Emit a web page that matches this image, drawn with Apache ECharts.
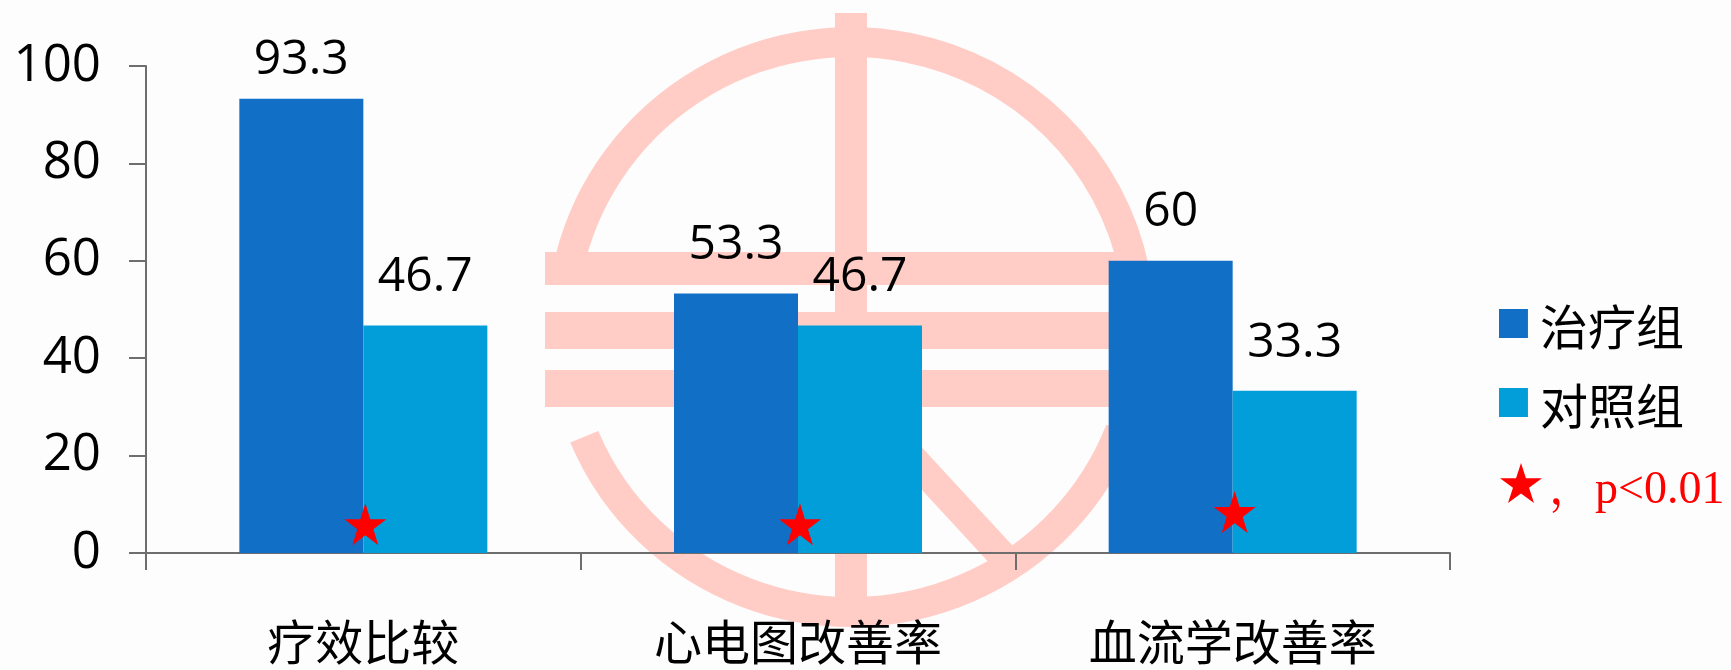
<!DOCTYPE html>
<html>
<head>
<meta charset="utf-8">
<style>html,body{margin:0;padding:0;background:#fdfdfd;overflow:hidden}#c{width:1731px;height:670px}</style>
<script src="https://cdn.jsdelivr.net/npm/echarts@6/dist/echarts.min.js"></script>
</head>
<body>
<div id="c"></div>
<script>
const categories = ['疗效比较', '心电图改善率', '血流学改善率'];
const treatment = [93.3, 53.3, 60];
const control = [46.7, 46.7, 33.3];
const starHeights = [5.5, 5.5, 8];
const yTickMax = 100, yTickStep = 20;

const FONT = '"Open Sans","Noto Sans CJK SC",sans-serif';
const PINK = '#ffcdc6';
const AXIS = '#6e6e6e';
const STAR_D = 'M50 0 L61.8 36.3 L100 36.3 L69.1 58.8 L80.9 95.1 L50 72.7 L19.1 95.1 L30.9 58.8 L0 36.3 L38.2 36.3 Z';
const STAR = 'path://' + STAR_D;
// Legend icons: the trailing zero-length segment enlarges the icon box, lifting the mark above the text centre.
const STAR_ICON = 'path://' + STAR_D + ' M0 133 L0.01 133';
const SQUARE_ICON = 'path://M0 0 H100 V100 H0 Z M0 152 L0.01 152';
const rect = (x, y, width, height) => ({type:'rect', silent:true, z:-1, shape:{x, y, width, height}, style:{fill:PINK}});
const arc = (startAngle, endAngle) => ({type:'arc', silent:true, z:-1, x:851, y:327, scaleX:1.014,
  shape:{cx:0, cy:0, r:285, startAngle, endAngle, clockwise:true}, style:{fill:null, stroke:PINK, lineWidth:30}});

const chart = echarts.init(document.getElementById('c'), null, {renderer:'canvas'});
const labelStyle = {show:true, position:'top', distance:24, color:'#000', fontSize:48, fontFamily:FONT};
chart.setOption({
  animation:false,
  graphic:{elements:[
    arc(Math.PI + 0.2, 2 * Math.PI - 0.2),
    arc(0.37, Math.PI - 0.395),
    rect(835, 13, 32, 602),
    rect(545, 252, 581, 33),
    rect(545, 312, 581, 37),
    rect(545, 370, 581, 37),
    {type:'line', silent:true, z:-1, shape:{x1:864, y1:406, x2:1009, y2:563}, style:{stroke:PINK, lineWidth:29}}
  ]},
  grid:{left:146, right:281, top:66, bottom:115, containLabel:false},
  legend:[
    {left:1494, top:302, orient:'vertical', itemWidth:29, itemHeight:44, itemGap:31,
     icon:SQUARE_ICON, data:['治疗组','对照组'], selectedMode:false,
     textStyle:{color:'#000', fontSize:48, fontFamily:FONT, padding:[0,0,0,7]}},
    {left:1495, top:458, itemWidth:42, itemHeight:56, itemGap:0, selectedMode:false,
     icon:STAR_ICON,
     data:['，p<0.01'],
     textStyle:{color:'#ff0000', fontSize:46, fontFamily:'"Liberation Serif","Noto Serif CJK SC","Noto Sans CJK SC",serif', padding:[0,0,0,2]}}
  ],
  xAxis:{type:'category', data:categories,
    axisLine:{lineStyle:{color:AXIS, width:2}},
    axisTick:{show:true, length:17, alignWithLabel:false, lineStyle:{color:AXIS, width:2}},
    axisLabel:{color:'#000', fontSize:48, fontFamily:FONT, margin:69, interval:0}},
  yAxis:{type:'value', min:0, max:yTickMax, interval:yTickStep,
    axisLine:{show:true, onZero:false, lineStyle:{color:AXIS, width:2}},
    axisTick:{show:true, length:17, lineStyle:{color:AXIS, width:2}},
    splitLine:{show:false},
    axisLabel:{color:'#000', fontSize:51, fontFamily:FONT, margin:45}},
  series:[
    {name:'治疗组', type:'bar', barWidth:124, barGap:0, z:2, itemStyle:{color:'#1170c6'},
     label:labelStyle,
     data:treatment.map((v,i)=> i===0 ? {value:v, label:{distance:14}} : v)},
    {name:'对照组', type:'bar', barWidth:124, barGap:0, z:2, itemStyle:{color:'#029ed9'},
     label:labelStyle, data:control},
    {name:'，p<0.01', type:'scatter', z:5, symbol:STAR, symbolOffset:[2,-2],
     symbolSize:42, itemStyle:{color:'#ff0000', opacity:1}, data:starHeights}
  ]
});
</script>
</body>
</html>
